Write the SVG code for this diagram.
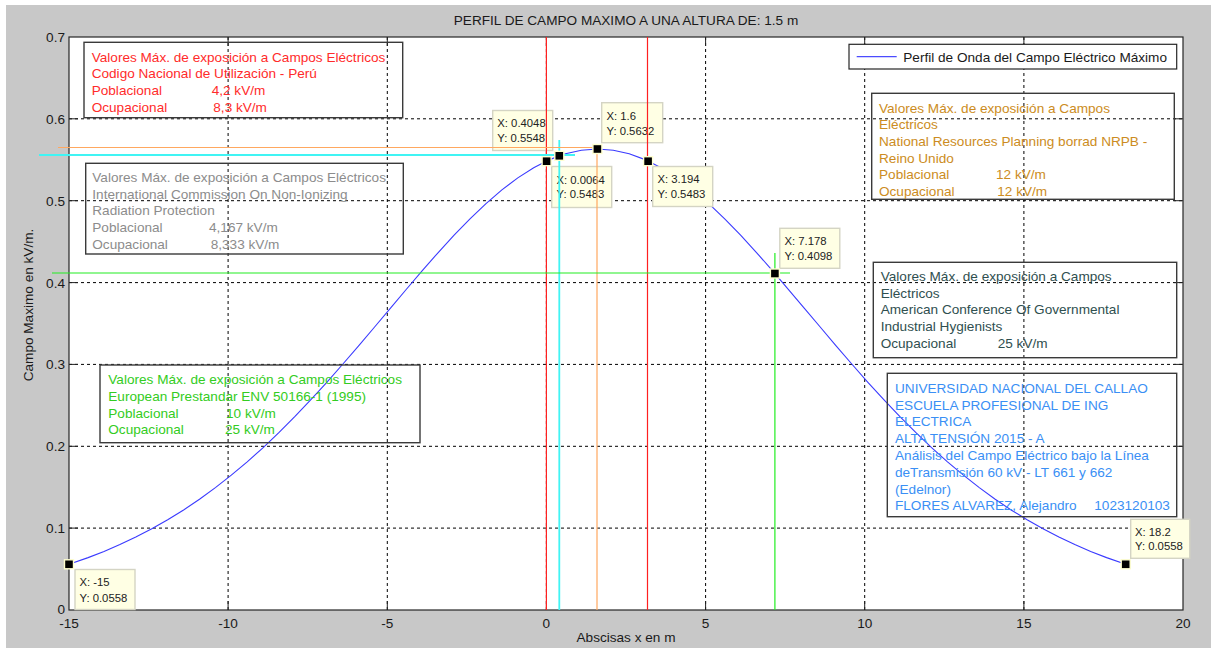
<svg xmlns="http://www.w3.org/2000/svg" width="1211" height="648" viewBox="0 0 1211 648">
<style>
text{font-family:"Liberation Sans",Arial,sans-serif;font-size:13.6px;fill:#1a1a1a}
.grid{stroke:#000;stroke-width:1;stroke-dasharray:3,3;fill:none}
.tk{stroke:#222;stroke-width:1;fill:none}
.ann{fill:none;stroke:#3a3a3a;stroke-width:1.4}
.tip rect{fill:#ffffe4;stroke:#d4d4c4;stroke-width:1.4}
.tip text{font-size:11.3px;fill:#222}
.mk{fill:#000;stroke:#ffffd0;stroke-width:1.4}
</style>
<rect x="0" y="0" width="1211" height="648" fill="#ffffff"/>
<rect x="6" y="5" width="1205" height="643" fill="#c8c8c8"/>
<g id="axes">
<rect x="69" y="37" width="1114" height="573" fill="#ffffff"/>
<g id="grid">
<path class="grid" d="M228.1 37V610M387.3 37V610M546.4 37V610M705.6 37V610M864.7 37V610M1023.9 37V610"/>
<path class="grid" d="M69 528.1H1183M69 446.3H1183M69 364.4H1183M69 282.6H1183M69 200.7H1183M69 118.8H1183"/>
</g>
<path class="tk" d="M69 528.1h9M69 446.3h9M69 364.4h9M69 282.6h9M69 200.7h9M69 118.8h9M1183 528.1h-9M1183 446.3h-9M1183 364.4h-9M1183 282.6h-9M1183 200.7h-9M1183 118.8h-9M228.1 610v-9M387.3 610v-9M546.4 610v-9M705.6 610v-9M864.7 610v-9M1023.9 610v-9M228.1 37v9M387.3 37v9M546.4 37v9M705.6 37v9M864.7 37v9M1023.9 37v9"/>
<rect x="69" y="37" width="1114" height="573" fill="none" stroke="#262626" stroke-width="1.2"/>
<g id="yticks" text-anchor="end">
<text x="65" y="613.5">0</text>
<text x="65" y="533">0.1</text>
<text x="65" y="451.2">0.2</text>
<text x="65" y="369.3">0.3</text>
<text x="65" y="287.5">0.4</text>
<text x="65" y="205.6">0.5</text>
<text x="65" y="123.7">0.6</text>
<text x="65" y="41.8">0.7</text>
</g>
<g id="xticks" text-anchor="middle">
<text x="69" y="628">-15</text>
<text x="228.1" y="628">-10</text>
<text x="387.3" y="628">-5</text>
<text x="546.4" y="628">0</text>
<text x="705.6" y="628">5</text>
<text x="864.7" y="628">10</text>
<text x="1023.9" y="628">15</text>
<text x="1183" y="628">20</text>
</g>
<text x="626" y="24.5" text-anchor="middle">PERFIL DE CAMPO MAXIMO A UNA ALTURA DE: 1.5 m</text>
<text x="626" y="642" text-anchor="middle">Abscisas x en m</text>
<text transform="translate(33 305) rotate(-90)" text-anchor="middle">Campo Maximo en kV/m.</text>
</g>
<g id="curve">
<polyline fill="none" stroke="#3a3aff" stroke-width="1.1" points="69.0,564.32 88.1,557.61 104.0,551.47 119.9,544.59 135.8,537.06 151.8,528.79 167.7,519.79 183.6,509.97 199.5,499.24 215.4,487.62 231.3,475.18 247.2,461.83 263.2,447.59 279.1,432.45 295.0,416.48 310.9,399.70 326.8,382.27 342.7,364.26 358.6,345.84 374.6,327.01 390.5,308.10 406.4,289.27 422.3,270.61 438.2,252.52 454.1,235.16 470.0,218.79 486.0,203.57 501.9,189.89 517.8,177.86 533.7,167.71 549.6,159.61 565.5,153.71 581.4,150.19 597.4,148.96 613.3,150.19 629.2,153.71 645.1,159.61 661.0,167.71 676.9,177.86 692.9,189.89 708.8,203.57 724.7,218.79 740.6,235.16 756.5,252.52 772.4,270.61 788.3,289.27 804.2,308.10 820.2,327.01 836.1,345.84 852.0,364.26 867.9,382.27 883.8,399.70 899.7,416.48 915.7,432.45 931.6,447.59 947.5,461.83 963.4,475.18 979.3,487.62 995.2,499.24 1011.1,509.97 1027.1,519.79 1043.0,528.79 1058.9,537.06 1074.8,544.59 1090.7,551.47 1106.6,557.61 1125.7,564.32"/>
</g>
<g id="tip1" class="tip"><rect x="75" y="569.5" width="60" height="40"/><text x="79.5" y="586">X: -15</text><text x="79.5" y="601.5">Y: 0.0558</text></g>
<g id="tip2" class="tip"><rect x="492.7" y="110.5" width="60" height="40"/><text x="497.3" y="127">X: 0.4048</text><text x="497.3" y="141.5">Y: 0.5548</text></g>
<g id="tip3" class="tip"><rect x="601.7" y="102.7" width="61" height="40"/><text x="606.5" y="119.5">X: 1.6</text><text x="606.5" y="134.5">Y: 0.5632</text></g>
<g id="tip4" class="tip"><rect x="551.7" y="166.5" width="60" height="41"/><text x="556.5" y="183.5">X: 0.0064</text><text x="556.5" y="198">Y: 0.5483</text></g>
<g id="tip5" class="tip"><rect x="652.7" y="166.5" width="60" height="40"/><text x="657.5" y="183">X: 3.194</text><text x="657.5" y="197.5">Y: 0.5483</text></g>
<g id="tip6" class="tip"><rect x="779.8" y="228.3" width="60" height="40"/><text x="784.5" y="245">X: 7.178</text><text x="784.5" y="259.5">Y: 0.4098</text></g>
<g id="tip7" class="tip"><rect x="1130.7" y="519.3" width="59" height="39"/><text x="1135" y="535.5">X: 18.2</text><text x="1135" y="550">Y: 0.0558</text></g>
<g id="connectors">
<path stroke="#ff2020" stroke-width="1.2" fill="none" d="M546.4 37V610M647.5 37V610"/>
<path stroke="#40f4f4" stroke-width="1.8" fill="none" d="M39 155H575M559.3 140V610"/>
<path stroke="#ffa860" stroke-width="1.2" fill="none" d="M58 147.5H597M597 151V610"/>
<path stroke="#22ee22" stroke-width="1.2" fill="none" d="M52 273H790M774.9 253V610"/>
</g>
<g id="markers">
<rect class="mk" x="64.5" y="559.8" width="9" height="9"/>
<rect class="mk" x="542.1" y="156.7" width="9" height="9"/>
<rect class="mk" x="554.8" y="151.3" width="9" height="9"/>
<rect class="mk" x="592.9" y="144.5" width="9" height="9"/>
<rect class="mk" x="643.6" y="156.7" width="9" height="9"/>
<rect class="mk" x="770.4" y="269" width="9" height="9"/>
<rect class="mk" x="1121.2" y="559.8" width="9" height="9"/>
</g>
<g id="legend">
<rect x="849" y="44.3" width="327.7" height="24.7" fill="#ffffff" stroke="#262626" stroke-width="1.2"/>
<line x1="856.7" y1="56.7" x2="896.7" y2="56.7" stroke="#4c4cff" stroke-width="1.2"/>
<text x="903.3" y="61.5">Perfil de Onda del Campo Eléctrico Máximo</text>
</g>
<g id="box-peru">
<rect class="ann" x="84" y="42.3" width="318.7" height="75.4"/>
<text style="fill:#ff2b2b">
<tspan x="91.7" y="61.7">Valores Máx. de exposición a Campos Eléctricos</tspan>
<tspan x="91.7" y="78.4">Codigo Nacional de Utilización - Perú</tspan>
<tspan x="91.7" y="95.1">Poblacional</tspan><tspan x="211.7" y="95.1">4,2 kV/m</tspan>
<tspan x="91.7" y="111.8">Ocupacional</tspan><tspan x="213.3" y="111.8">8,3 kV/m</tspan>
</text>
</g>
<g id="box-icnirp">
<rect class="ann" x="85.7" y="163.3" width="317.6" height="90.7"/>
<text style="fill:#8c8c8c">
<tspan x="92.3" y="182">Valores Máx. de exposición a Campos Eléctricos</tspan>
<tspan x="92.3" y="198.7">International Commission On Non-Ionizing</tspan>
<tspan x="92.3" y="215.4">Radiation Protection</tspan>
<tspan x="92.3" y="232.1">Poblacional</tspan><tspan x="209" y="232.1">4,167 kV/m</tspan>
<tspan x="92.3" y="248.8">Ocupacional</tspan><tspan x="210.7" y="248.8">8,333 kV/m</tspan>
</text>
</g>
<g id="box-nrpb">
<rect class="ann" x="871.7" y="93.3" width="302.6" height="106"/>
<text style="fill:#cc8c22">
<tspan x="879" y="112.5">Valores Máx. de exposición a Campos</tspan>
<tspan x="879" y="129.2">Eléctricos</tspan>
<tspan x="879" y="145.9">National Resources Planning borrad NRPB -</tspan>
<tspan x="879" y="162.6">Reino Unido</tspan>
<tspan x="879" y="179.3">Poblacional</tspan><tspan x="996" y="179.3">12 kV/m</tspan>
<tspan x="879" y="196">Ocupacional</tspan><tspan x="997.3" y="196">12 kV/m</tspan>
</text>
</g>
<g id="box-acgih">
<rect class="ann" x="873.3" y="262.3" width="303.4" height="95.4"/>
<text style="fill:#2f4f4f">
<tspan x="880.7" y="280.8">Valores Máx. de exposición a Campos</tspan>
<tspan x="880.7" y="297.6">Eléctricos</tspan>
<tspan x="880.7" y="314.4">American Conference Of Governmental</tspan>
<tspan x="880.7" y="331.2">Industrial Hygienists</tspan>
<tspan x="880.7" y="348">Ocupacional</tspan><tspan x="997.7" y="348">25 kV/m</tspan>
</text>
</g>
<g id="box-env">
<rect class="ann" x="100" y="365" width="320" height="77.7"/>
<text style="fill:#33cc22">
<tspan x="108.3" y="384.3">Valores Máx. de exposición a Campos Eléctricos</tspan>
<tspan x="108.3" y="401">European Prestandar ENV 50166-1 (1995)</tspan>
<tspan x="108.3" y="417.7">Poblacional</tspan><tspan x="226" y="417.7">10 kV/m</tspan>
<tspan x="108.3" y="434.4">Ocupacional</tspan><tspan x="225" y="434.4">25 kV/m</tspan>
</text>
</g>
<g id="box-unac">
<rect class="ann" x="887.3" y="373.3" width="289.4" height="143.4"/>
<text style="fill:#3a8ff5">
<tspan x="895" y="392.8">UNIVERSIDAD NACIONAL DEL CALLAO</tspan>
<tspan x="895" y="409.6">ESCUELA PROFESIONAL DE ING</tspan>
<tspan x="895" y="426.4">ELECTRICA</tspan>
<tspan x="895" y="443.2">ALTA TENSIÓN 2015 - A</tspan>
<tspan x="895" y="460">Análisis del Campo Eléctrico bajo la Línea</tspan>
<tspan x="895" y="476.8">deTransmisión 60 kV - LT 661 y 662</tspan>
<tspan x="895" y="493.6">(Edelnor)</tspan>
<tspan x="895" y="510.4">FLORES ALVAREZ, Alejandro</tspan><tspan x="1094.3" y="510.4">1023120103</tspan>
</text>
</g>
</svg>
